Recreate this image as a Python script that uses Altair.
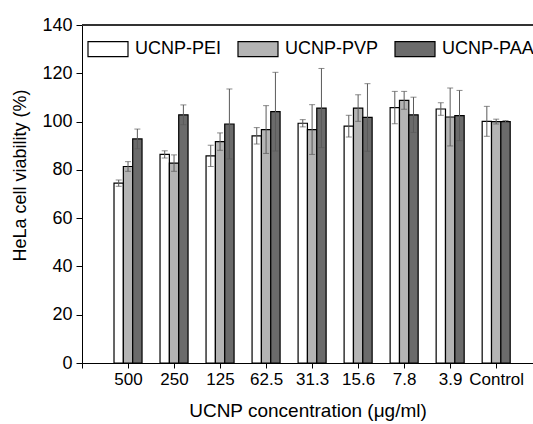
import altair as alt
import pandas as pd

conc = ["500", "250", "125", "62.5", "31.3", "15.6", "7.8", "3.9", "Control"]
series = ["UCNP-PEI", "UCNP-PVP", "UCNP-PAA"]
pei = [74.5, 86.4, 85.8, 94.1, 99.3, 98.1, 105.8, 105.2, 100.1]
pei_err = [1.3, 1.5, 4.4, 3.4, 1.5, 4.5, 6.7, 2.6, 6.2]
pvp = [81.4, 82.8, 91.7, 96.7, 96.7, 105.6, 108.8, 101.9, 100.0]
pvp_err = [2.0, 3.4, 3.6, 9.9, 10.3, 5.5, 3.7, 12.0, 1.0]
paa = [92.8, 102.8, 99.0, 104.1, 105.6, 101.7, 102.8, 102.5, 100.0]
paa_err = [4.1, 4.1, 14.5, 16.3, 16.4, 14.0, 7.3, 10.4, 0.4]
colors = ["#ffffff", "#b4b4b4", "#6b6b6b"]

rows = []
for s_i, (name, vals, errs) in enumerate(zip(series, [pei, pvp, paa], [pei_err, pvp_err, paa_err])):
    for c_i, (c, v, e) in enumerate(zip(conc, vals, errs)):
        rows.append({"conc": c, "idx": c_i + 1, "series": name, "sidx": s_i, "value": v, "err": e})
df = pd.DataFrame(rows)

BW = 0.203
base = alt.Chart(df).transform_calculate(
    x0=f"datum.idx + (datum.sidx - 1.5) * {BW}",
    x1=f"datum.idx + (datum.sidx - 0.5) * {BW}",
    xc=f"datum.idx + (datum.sidx - 1) * {BW}",
    lo="datum.value - datum.err",
    hi="datum.value + datum.err",
)

labels_js = "[''," + ",".join(f"'{c}'" for c in conc) + "]"
xscale = alt.Scale(domain=[0, 9.8], nice=False, zero=False)
yscale = alt.Scale(domain=[0, 140], nice=False)

xaxis = alt.Axis(
    values=list(range(0, 10)),
    labelExpr=f"{labels_js}[datum.value]",
    title="UCNP concentration (\u03bcg/ml)",
    grid=False, tickSize=5, labelFontSize=17, titleFontSize=19,
    labelPadding=3, titlePadding=14, domainColor="black", tickColor="black",
    labelColor="black", titleColor="black", titleFontWeight="normal",
)
yaxis = alt.Axis(
    values=list(range(0, 141, 10)),
    labelExpr="datum.value % 20 == 0 ? datum.value : ''",
    title="HeLa cell viability (%)",
    grid=False, tickSize=6, labelFontSize=18, titleFontSize=18,
    labelPadding=4, titlePadding=12, titleY=150, domainColor="black", tickColor="black",
    labelColor="black", titleColor="black", titleFontWeight="normal",
)

bars = base.mark_bar(stroke="black", strokeWidth=1.2).encode(
    x=alt.X("x0:Q", scale=xscale, axis=xaxis),
    x2="x1:Q",
    y=alt.Y("value:Q", scale=yscale, axis=yaxis),
    y2=alt.datum(0),
    fill=alt.Fill("series:N", scale=alt.Scale(domain=series, range=colors),
                  legend=alt.Legend(
                      title=None, orient="none", legendX=5, legendY=3,
                      direction="horizontal",
                      symbolType="M-1,-0.375L1,-0.375L1,0.375L-1,0.375Z",
                      symbolSize=1600, symbolStrokeColor="black", symbolStrokeWidth=1.2,
                      labelFontSize=18, labelOffset=6, columnPadding=13,
                      labelColor="black", padding=0,
                  )),
)

err_line = base.mark_rule(color="#5a5a5a", strokeWidth=1).encode(
    x="xc:Q", y="lo:Q", y2="hi:Q"
)
cap_hi = base.mark_tick(color="#5a5a5a", orient="horizontal", size=6, thickness=1).encode(
    x="xc:Q", y="hi:Q"
)
cap_lo = base.mark_tick(color="#5a5a5a", orient="horizontal", size=6, thickness=1).encode(
    x="xc:Q", y="lo:Q"
)
top = alt.Chart(df).mark_rule(color="#333333", strokeWidth=1.2).encode(
    x=alt.value(0), x2=alt.value(451), y=alt.value(0)
)

chart = alt.layer(bars, err_line, cap_hi, cap_lo, top).properties(
    width=451, height=338,
    autosize=alt.AutoSizeParams(type="none"),
    padding={"left": 82, "top": 25, "right": 0, "bottom": 61},
).configure_view(stroke=None).configure(font="Liberation Sans")

chart.save("out.html", embed_options={"renderer": "svg", "actions": False})
